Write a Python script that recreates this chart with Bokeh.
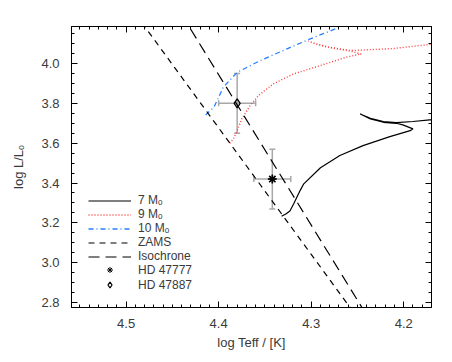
from bokeh.plotting import figure
from bokeh.models import (Range1d, LinearAxis, SingleIntervalTicker, Legend, LegendItem,
                          Whisker, TeeHead, ColumnDataSource, PrintfTickFormatter,
                          CustomJSTickFormatter)
from bokeh.embed import file_html
from bokeh.resources import INLINE

# ---------------- data ----------------
zams_teff = [4.49, 4.40, 4.30, 4.25]
zams_logl = [4.250, 3.677, 3.042, 2.724]

iso_teff = [4.44, 4.24]
iso_logl = [4.246, 2.736]

m7_teff = [4.332, 4.327, 4.323, 4.319, 4.312, 4.308, 4.290, 4.269, 4.244, 4.215, 4.193, 4.190,
           4.201, 4.208, 4.222, 4.236, 4.247, 4.236, 4.222, 4.208, 4.190, 4.172, 4.160]
m7_logl = [3.233, 3.246, 3.260, 3.295, 3.362, 3.396, 3.477, 3.538, 3.588, 3.633, 3.663, 3.672,
           3.692, 3.700, 3.705, 3.722, 3.747, 3.725, 3.708, 3.703, 3.709, 3.717, 3.720]

m9_teff = [4.388, 4.384, 4.380, 4.375, 4.366, 4.357, 4.341, 4.319, 4.290, 4.262, 4.246,
           4.258, 4.280, 4.294, 4.303, 4.294, 4.280, 4.258, 4.212, 4.172, 4.160]
m9_logl = [3.600, 3.622, 3.663, 3.722, 3.789, 3.839, 3.898, 3.948, 3.990, 4.032, 4.048,
           4.063, 4.080, 4.096, 4.112, 4.098, 4.082, 4.065, 4.075, 4.096, 4.100]

m10_teff = [4.414, 4.405, 4.400, 4.395, 4.380, 4.355, 4.326, 4.301, 4.269, 4.247]
m10_logl = [3.742, 3.781, 3.831, 3.881, 3.956, 4.015, 4.074, 4.124, 4.183, 4.216]

stars_teff = [4.342, 4.380]
stars_logl = [3.42, 3.80]
stars_teff_err = [0.02, 0.02]
stars_logl_err = [0.15, 0.15]

x_ticks_interval = 0.1
y_ticks_interval = 0.2

FONT = "Liberation Sans"
TXT = "#3a3a3a"
RED = "#ff3b3b"
BLUE = "#2a7fff"
GREY = "#a8a8a8"

p = figure(width=444, height=354, output_backend="svg", toolbar_location=None,
           x_range=Range1d(4.559, 4.170), y_range=Range1d(2.775, 4.186),
           min_border_left=71, min_border_right=13, min_border_top=26, min_border_bottom=47,
           x_axis_label="log Teff / [K]", y_axis_label="log L/L\u2092")
p.grid.visible = False
p.outline_line_color = "black"
p.background_fill_color = "white"
p.border_fill_color = "white"

xt = SingleIntervalTicker(interval=x_ticks_interval, num_minor_ticks=10)
yt = SingleIntervalTicker(interval=y_ticks_interval, num_minor_ticks=4)


def style(ax, labels=True):
    ax.major_tick_in = 6
    ax.major_tick_out = 0
    ax.minor_tick_in = 3
    ax.minor_tick_out = 0
    ax.axis_line_color = "black"
    ax.major_tick_line_color = "black"
    ax.minor_tick_line_color = "black"
    ax.major_label_text_font = FONT
    ax.major_label_text_font_size = "13px"
    ax.major_label_text_color = TXT
    ax.axis_label_text_font = FONT
    ax.axis_label_text_font_size = "13px"
    ax.axis_label_text_font_style = "normal"
    ax.axis_label_text_color = TXT
    if labels:
        ax.formatter = PrintfTickFormatter(format="%.1f")
    else:
        ax.formatter = CustomJSTickFormatter(code="return ''")
        ax.major_label_standoff = 0


p.xaxis.ticker = xt
p.yaxis.ticker = yt
for ax in p.xaxis + p.yaxis:
    style(ax)
p.xaxis.major_label_standoff = 11
p.xaxis.axis_label_standoff = 4
p.yaxis.major_label_standoff = 12
p.yaxis.axis_label_standoff = 12

top = LinearAxis(ticker=xt)
style(top, labels=False)
p.add_layout(top, "above")
right = LinearAxis(ticker=yt)
style(right, labels=False)
p.add_layout(right, "right")

# error bars
src = ColumnDataSource(dict(
    t=stars_teff, l=stars_logl,
    tlo=[a - b for a, b in zip(stars_teff, stars_teff_err)],
    thi=[a + b for a, b in zip(stars_teff, stars_teff_err)],
    llo=[a - b for a, b in zip(stars_logl, stars_logl_err)],
    lhi=[a + b for a, b in zip(stars_logl, stars_logl_err)],
))
for dim, base, lo, hi in [("height", "t", "llo", "lhi"), ("width", "l", "tlo", "thi")]:
    w = Whisker(source=src, base=base, lower=lo, upper=hi, dimension=dim,
                line_color=GREY, line_width=1.5,
                upper_head=TeeHead(size=6, line_color=GREY, line_width=1.5),
                lower_head=TeeHead(size=6, line_color=GREY, line_width=1.5))
    p.add_layout(w)

r7 = p.line(m7_teff, m7_logl, line_color="black", line_width=1.2)
r9 = p.line(m9_teff, m9_logl, line_color=RED, line_width=1.4, line_dash="1 2")
r10 = p.line(m10_teff, m10_logl, line_color=BLUE, line_width=1.3, line_dash="5 3 1 3")
rz = p.line(zams_teff, zams_logl, line_color="black", line_width=1.2, line_dash="6 5")
ri = p.line(iso_teff, iso_logl, line_color="black", line_width=1.2, line_dash="11 6")
# thin asterisk (used for the legend key), covered by the bold one
rs1_key = p.scatter([stars_teff[0]], [stars_logl[0]], marker="asterisk", size=8,
                    line_color="black", line_width=1.0)
rs1 = p.scatter([stars_teff[0]], [stars_logl[0]], marker="asterisk", size=9,
                line_color="black", line_width=1.6)
rs2 = p.scatter([stars_teff[1]], [stars_logl[1]], marker="diamond", size=9,
                line_color="black", line_width=1.3, fill_color=None)

common = dict(padding=0, margin=0, label_standoff=7, border_line_alpha=0,
              background_fill_alpha=0, label_text_font=FONT, label_text_font_size="12px",
              label_text_color=TXT, glyph_width=43, spacing=0)

legend_lines = Legend(items=[
    LegendItem(label="7 M\u2092", renderers=[r7]),
    LegendItem(label="9 M\u2092", renderers=[r9]),
    LegendItem(label="10 M\u2092", renderers=[r10]),
    LegendItem(label="ZAMS", renderers=[rz]),
    LegendItem(label="Isochrone", renderers=[ri]),
], location=(17, 44), glyph_height=13, label_height=13, **common)
legend_stars = Legend(items=[
    LegendItem(label="HD 47777", renderers=[rs1_key]),
    LegendItem(label="HD 47887", renderers=[rs2]),
], location=(17, 15), glyph_height=15, label_height=14, **common)
p.add_layout(legend_lines, "center")
p.add_layout(legend_stars, "center")

open("out.html", "w").write(file_html(p, INLINE))
